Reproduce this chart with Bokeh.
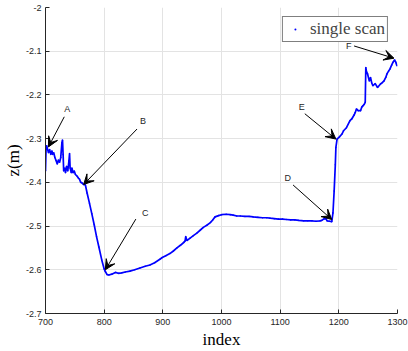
from bokeh.plotting import figure
from bokeh.models import (Range1d, FixedTicker, CustomJSTickFormatter, Arrow, VeeHead,
                          Legend, LegendItem, Label)
from bokeh.embed import file_html
from bokeh.resources import INLINE

# ---- data ----
index = [700, 701, 702, 705, 707, 709, 711, 712, 714, 716, 718, 720, 722, 724, 726,
         728, 729, 730, 731, 733, 734, 736, 738, 740, 741, 742, 744, 745, 747, 749,
         751, 754, 756, 758, 760, 762, 765, 768, 771, 775, 779, 783, 787, 791, 796,
         800, 802, 805, 808, 813, 819, 824, 830, 836, 844, 852, 861, 870, 878, 886,
         895, 899, 905, 912, 918, 924, 930, 936, 938, 939, 941, 946, 952, 958, 964,
         969, 975, 981, 985, 989, 995, 1000, 1008, 1015, 1020, 1026, 1032, 1040, 1047,
         1054, 1062, 1070, 1077, 1083, 1090, 1097, 1104, 1111, 1118, 1125, 1132, 1140,
         1147, 1154, 1161, 1168, 1171, 1174, 1178, 1180, 1184, 1188, 1190, 1192, 1194,
         1195, 1197, 1201, 1205, 1208, 1213, 1219, 1222, 1226, 1228, 1230, 1233, 1237,
         1239, 1241, 1243, 1245, 1246, 1247, 1249, 1252, 1254, 1256, 1258, 1262, 1266,
         1271, 1274, 1277, 1280, 1282, 1285, 1287, 1290, 1292, 1295, 1297, 1299]
z = [-2.374, -2.320, -2.316, -2.332, -2.325, -2.336, -2.328, -2.336, -2.332, -2.343,
     -2.350, -2.358, -2.349, -2.354, -2.343, -2.309, -2.303, -2.336, -2.374, -2.367,
     -2.378, -2.363, -2.374, -2.350, -2.334, -2.367, -2.378, -2.367, -2.378, -2.374,
     -2.382, -2.386, -2.390, -2.393, -2.400, -2.401, -2.405, -2.406, -2.425, -2.448,
     -2.472, -2.497, -2.524, -2.548, -2.578, -2.598, -2.604, -2.611, -2.612, -2.610,
     -2.606, -2.608, -2.607, -2.605, -2.603, -2.600, -2.596, -2.592, -2.589, -2.584,
     -2.576, -2.572, -2.568, -2.563, -2.557, -2.550, -2.544, -2.537, -2.534, -2.524,
     -2.533, -2.528, -2.522, -2.516, -2.509, -2.503, -2.498, -2.492, -2.486, -2.479,
     -2.476, -2.474, -2.473, -2.474, -2.475, -2.477, -2.477, -2.478, -2.478, -2.479,
     -2.480, -2.481, -2.481, -2.482, -2.483, -2.484, -2.484, -2.485, -2.486, -2.486,
     -2.487, -2.488, -2.488, -2.488, -2.489, -2.488, -2.487, -2.484, -2.483, -2.488,
     -2.489, -2.490, -2.470, -2.420, -2.360, -2.320, -2.301, -2.296, -2.290, -2.282,
     -2.275, -2.259, -2.255, -2.246, -2.240, -2.232, -2.236, -2.236, -2.228, -2.225,
     -2.222, -2.217, -2.137, -2.146, -2.152, -2.168, -2.160, -2.172, -2.179, -2.174,
     -2.183, -2.175, -2.172, -2.168, -2.160, -2.152, -2.145, -2.141, -2.132, -2.126,
     -2.120, -2.125, -2.133]

x_ticks = [700, 800, 900, 1000, 1100, 1200, 1300]
y_ticks = [-2.7, -2.6, -2.5, -2.4, -2.3, -2.2, -2.1, -2.0]

# annotation labels: text position and arrow start / end
ann_text = ["A", "B", "C", "D", "E", "F"]
ann_tx = [737, 866, 870, 1113, 1137, 1217]
ann_ty = [-2.232, -2.259, -2.470, -2.390, -2.227, -2.088]
ann_x0 = [732, 856, 854, 1122, 1142, 1226]
ann_y0 = [-2.250, -2.278, -2.484, -2.406, -2.243, -2.088]
ann_x1 = [705, 765, 802, 1188, 1195, 1294]
ann_y1 = [-2.319, -2.405, -2.600, -2.485, -2.301, -2.116]

p = figure(width=408, height=351, output_backend="svg", toolbar_location=None,
           x_range=Range1d(700, 1300), y_range=Range1d(-2.7, -2.0),
           min_border_left=45, min_border_right=11, min_border_top=7, min_border_bottom=38)
p.outline_line_color = None
p.background_fill_color = "white"
p.border_fill_color = "white"

blue = "#0000ff"
line_r = p.line(index, z, line_color=blue, line_width=1.7)
dot_r = p.scatter(index, z, size=6, marker="dot", fill_color=blue, line_color=blue)

for ax, ticks in ((p.xaxis[0], x_ticks), (p.yaxis[0], y_ticks)):
    ax.ticker = FixedTicker(ticks=ticks)
    ax.major_tick_in = 4
    ax.major_tick_out = 0
    ax.minor_tick_line_color = None
    ax.axis_line_color = "#262626"
    ax.major_tick_line_color = "#262626"
    ax.major_label_text_font = "Liberation Sans"
    ax.major_label_text_font_size = "9px"
    ax.major_label_text_color = "#262626"
    ax.major_label_standoff = 5
    ax.axis_label_text_font = "Liberation Serif"
    ax.axis_label_text_font_size = "17px"
    ax.axis_label_text_font_style = "normal"
    ax.axis_label_text_color = "#000000"

p.yaxis[0].formatter = CustomJSTickFormatter(code="return String(Number(tick.toFixed(2)));")
p.yaxis[0].major_label_standoff = 4
p.xaxis[0].axis_label = "index"
p.yaxis[0].axis_label = "z(m)"
p.xaxis[0].axis_label_standoff = 2
p.yaxis[0].axis_label_standoff = 0

p.xgrid.ticker = FixedTicker(ticks=x_ticks)
p.ygrid.ticker = FixedTicker(ticks=y_ticks)
p.grid.grid_line_color = "#e3e3e3"
p.grid.grid_line_width = 1

for t, tx, ty, x0, y0, x1, y1 in zip(ann_text, ann_tx, ann_ty, ann_x0, ann_y0, ann_x1, ann_y1):
    p.add_layout(Arrow(x_start=x0, y_start=y0, x_end=x1, y_end=y1,
                       line_color="black", line_width=1,
                       end=VeeHead(size=10, fill_color="black", line_color="black")))
    p.add_layout(Label(x=tx, y=ty, text=t, text_font="Liberation Sans", text_font_size="9px",
                       text_color="#262626", text_align="center", text_baseline="middle"))

legend = Legend(items=[LegendItem(label="single scan", renderers=[dot_r])],
                location="top_right", margin=9, padding=2, spacing=0,
                label_text_font="Liberation Serif", label_text_font_size="17px",
                label_standoff=5, glyph_width=20, glyph_height=20, label_height=20,
                border_line_color="black", border_line_width=1,
                background_fill_color="white", background_fill_alpha=1)
p.add_layout(legend)

open("out.html", "w").write(file_html(p, INLINE))
